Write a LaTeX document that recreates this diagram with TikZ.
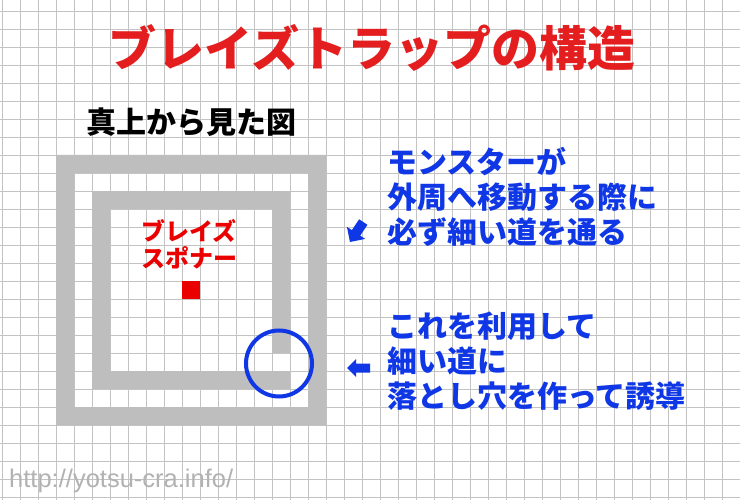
\documentclass[tikz,border=0pt]{standalone}
\usepackage{fontspec}
\setmainfont{Noto Sans CJK JP}
\IfFontExistsTF{Noto Sans CJK JP Black}
  {\newfontfamily\heavy{Noto Sans CJK JP Black}}
  {\newcommand\heavy{\bfseries}}
\newfontfamily\urlfont{Liberation Sans}
\definecolor{gridc}{RGB}{195,195,195}
\definecolor{wallc}{RGB}{190,190,190}
\definecolor{tred}{RGB}{228,30,30}
\definecolor{sred}{RGB}{235,0,0}
\definecolor{tblue}{RGB}{15,55,230}
\definecolor{urlc}{RGB}{178,178,178}
\begin{document}
\begin{tikzpicture}[x=1pt,y=-1pt,
  gridline/.style={gridc,line width=0.9pt},
  wall/.style={fill=wallc,draw=none},
  bluearrow/.style={fill=tblue,draw=none},
  bluetext/.style={tblue,font=\heavy\fontsize{30}{35}\selectfont,align=left,anchor=west,inner sep=0pt}]
\useasboundingbox (0,0) rectangle (740,500);
\fill[white] (0,0) rectangle (740,500);
% grid
\foreach \i in {0,...,41} \draw[gridline] (2+18*\i,0) -- (2+18*\i,500);
\foreach \j in {0,...,27} \draw[gridline] (0,11+18*\j) -- (740,11+18*\j);
% outer wall
\fill[wall,even odd rule] (56,155) rectangle (326,425) (74,173) rectangle (308,407);
% inner wall with a gap
\fill[wall] (92,191) rectangle (110,389);
\fill[wall] (92,191) rectangle (290,209);
\fill[wall] (272,191) rectangle (290,353);
\fill[wall] (92,371) rectangle (290,389);
% spawner
\node[fill=sred,minimum size=18pt,inner sep=0pt] (spawner) at (191,290) {};
\node[sred,font=\heavy\fontsize{24}{27}\selectfont,align=center,inner sep=0pt] (label) at (189,244) {ブレイズ\\スポナー};
% circle marking the narrow path
\node[draw=tblue,line width=4pt,circle,minimum size=66pt,inner sep=0pt] (hole) at (279,363.5) {};
% texts
\node[tred,font=\heavy\fontsize{48}{48}\selectfont,inner sep=0pt] (title) at (372,48) {ブレイズトラップの構造};
\node[black,font=\heavy\fontsize{30}{30}\selectfont,anchor=west,inner sep=0pt] (sub) at (86,122) {真上から見た図};
\node[bluetext] (note1) at (387,197) {モンスターが\\外周へ移動する際に\\必ず細い道を通る};
\node[bluetext] (note2) at (387,361) {これを利用して\\細い道に\\落とし穴を作って誘導};
\node[urlc,font=\urlfont\fontsize{25.5}{25.5}\selectfont,anchor=west,inner sep=0pt] (url) at (9,481) {http://yotsu-cra.info/};
% block arrows
\fill[bluearrow] (350,242) -- (365.2,238.9) -- (360.2,235.6) -- (367.4,224.8) -- (359.1,219.3) -- (351.9,230.1) -- (346.9,226.8) -- cycle;
\fill[bluearrow] (347,368) -- (356,359) -- (356,363.5) -- (370,363.5) -- (370,372.5) -- (356,372.5) -- (356,377) -- cycle;
\end{tikzpicture}
\end{document}
